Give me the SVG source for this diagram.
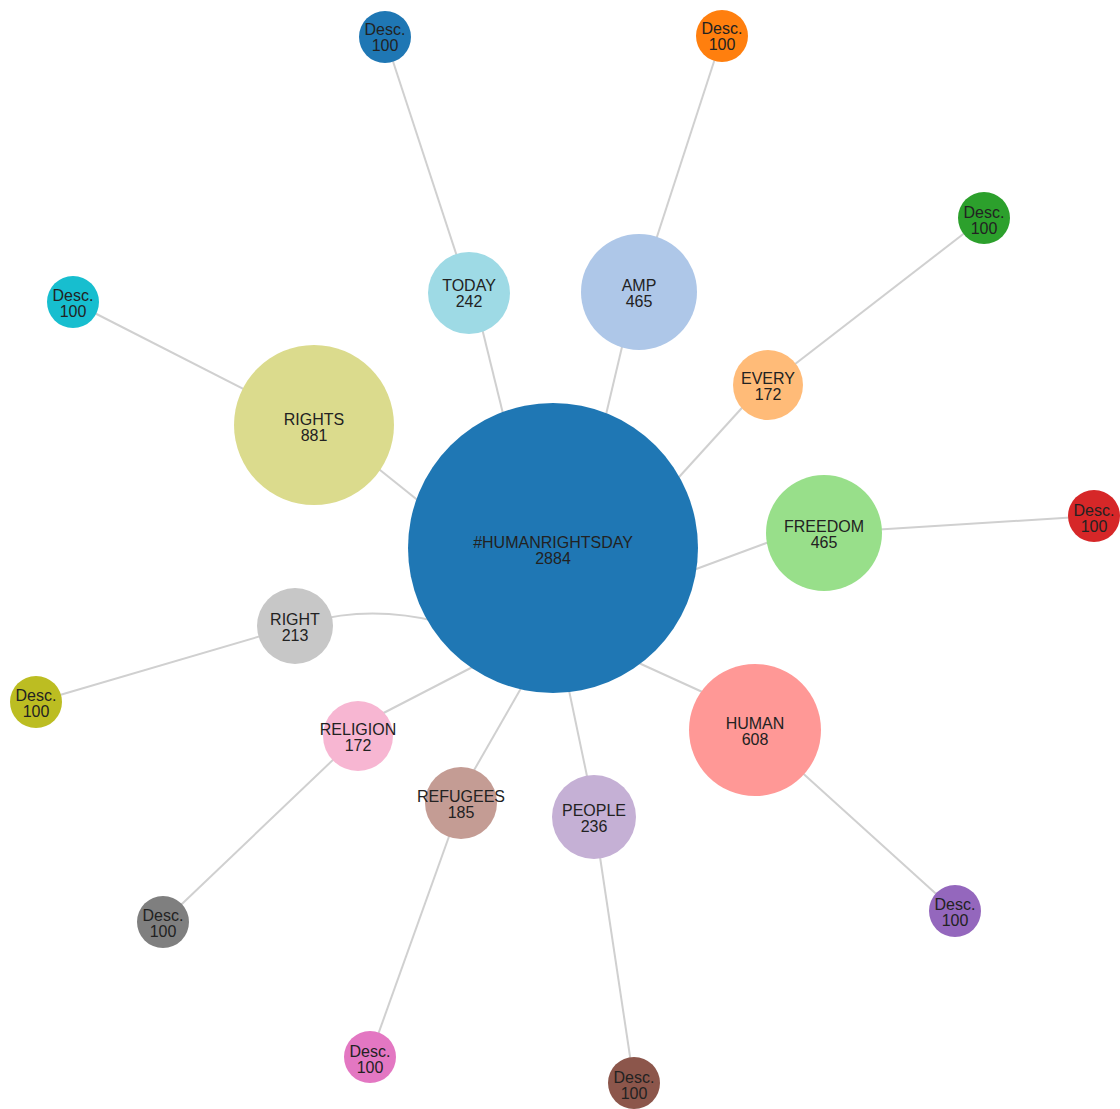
<svg xmlns="http://www.w3.org/2000/svg" width="1120" height="1109" viewBox="0 0 1120 1109">
<style>
.link{stroke:#d0d0d0;stroke-width:2;fill:none}
text{font-family:"Liberation Sans",Arial,sans-serif;font-size:16px;fill:#222;text-anchor:middle}
</style>
<rect width="1120" height="1109" fill="#ffffff"/>
<g id="links">
<line class="link" x1="385" y1="37" x2="469" y2="293"/>
<line class="link" x1="478" y1="312" x2="509" y2="438"/>
<line class="link" x1="722" y1="37" x2="639" y2="292"/>
<line class="link" x1="626" y1="330" x2="600" y2="440"/>
<line class="link" x1="984" y1="218" x2="768" y2="385"/>
<line class="link" x1="750" y1="399" x2="670" y2="487"/>
<line class="link" x1="824" y1="533" x2="1094" y2="516"/>
<line class="link" x1="780" y1="538" x2="680" y2="575"/>
<line class="link" x1="630" y1="659" x2="720" y2="700"/>
<line class="link" x1="755" y1="730" x2="955" y2="911"/>
<line class="link" x1="566" y1="676" x2="592" y2="800"/>
<line class="link" x1="594" y1="817" x2="634" y2="1083"/>
<line class="link" x1="528" y1="676" x2="465" y2="786"/>
<line class="link" x1="461" y1="803" x2="370" y2="1057"/>
<line class="link" x1="370" y1="720" x2="490" y2="658"/>
<line class="link" x1="358" y1="736" x2="163" y2="922"/>
<path class="link" d="M310 622 Q370 605 440 622"/>
<line class="link" x1="295" y1="626" x2="36" y2="702"/>
<line class="link" x1="370" y1="462" x2="430" y2="510"/>
<line class="link" x1="314" y1="425" x2="73" y2="302"/>
</g>
<g id="node-center"><circle cx="553" cy="548" r="145" fill="#1f77b4"/><text x="553" y="548">#HUMANRIGHTSDAY</text><text x="553" y="564">2884</text></g>
<g id="node-rights"><circle cx="314" cy="425" r="80" fill="#dbdb8d"/><text x="314" y="425">RIGHTS</text><text x="314" y="441">881</text></g>
<g id="node-today"><circle cx="469" cy="293" r="41" fill="#9edae5"/><text x="469" y="291">TODAY</text><text x="469" y="307">242</text></g>
<g id="node-amp"><circle cx="639" cy="292" r="58" fill="#aec7e8"/><text x="639" y="291">AMP</text><text x="639" y="307">465</text></g>
<g id="node-every"><circle cx="768" cy="385" r="35" fill="#ffbb78"/><text x="768" y="384">EVERY</text><text x="768" y="400">172</text></g>
<g id="node-freedom"><circle cx="824" cy="533" r="58" fill="#98df8a"/><text x="824" y="532">FREEDOM</text><text x="824" y="548">465</text></g>
<g id="node-human"><circle cx="755" cy="730" r="66" fill="#ff9896"/><text x="755" y="729">HUMAN</text><text x="755" y="745">608</text></g>
<g id="node-people"><circle cx="594" cy="817" r="42" fill="#c5b0d5"/><text x="594" y="816">PEOPLE</text><text x="594" y="832">236</text></g>
<g id="node-refugees"><circle cx="461" cy="803" r="36" fill="#c49c94"/><text x="461" y="802">REFUGEES</text><text x="461" y="818">185</text></g>
<g id="node-religion"><circle cx="358" cy="736" r="35" fill="#f7b6d2"/><text x="358" y="735">RELIGION</text><text x="358" y="751">172</text></g>
<g id="node-right"><circle cx="295" cy="626" r="38" fill="#c7c7c7"/><text x="295" y="625">RIGHT</text><text x="295" y="641">213</text></g>
<g id="desc-today"><circle cx="385" cy="37" r="26" fill="#1f77b4"/><text x="385" y="35">Desc.</text><text x="385" y="51">100</text></g>
<g id="desc-amp"><circle cx="722" cy="36" r="26" fill="#ff7f0e"/><text x="722" y="34">Desc.</text><text x="722" y="50">100</text></g>
<g id="desc-every"><circle cx="984" cy="218" r="26" fill="#2ca02c"/><text x="984" y="218">Desc.</text><text x="984" y="234">100</text></g>
<g id="desc-rights"><circle cx="73" cy="302" r="26" fill="#17becf"/><text x="73" y="301">Desc.</text><text x="73" y="317">100</text></g>
<g id="desc-freedom"><circle cx="1094" cy="516" r="26" fill="#d62728"/><text x="1094" y="516">Desc.</text><text x="1094" y="532">100</text></g>
<g id="desc-right"><circle cx="36" cy="702" r="26" fill="#bcbd22"/><text x="36" y="701">Desc.</text><text x="36" y="717">100</text></g>
<g id="desc-religion"><circle cx="163" cy="922" r="26" fill="#7f7f7f"/><text x="163" y="921">Desc.</text><text x="163" y="937">100</text></g>
<g id="desc-refugees"><circle cx="370" cy="1057" r="26" fill="#e377c2"/><text x="370" y="1057">Desc.</text><text x="370" y="1073">100</text></g>
<g id="desc-people"><circle cx="634" cy="1083" r="26" fill="#8c564b"/><text x="634" y="1083">Desc.</text><text x="634" y="1099">100</text></g>
<g id="desc-human"><circle cx="955" cy="911" r="26" fill="#9467bd"/><text x="955" y="910">Desc.</text><text x="955" y="926">100</text></g>
</svg>
